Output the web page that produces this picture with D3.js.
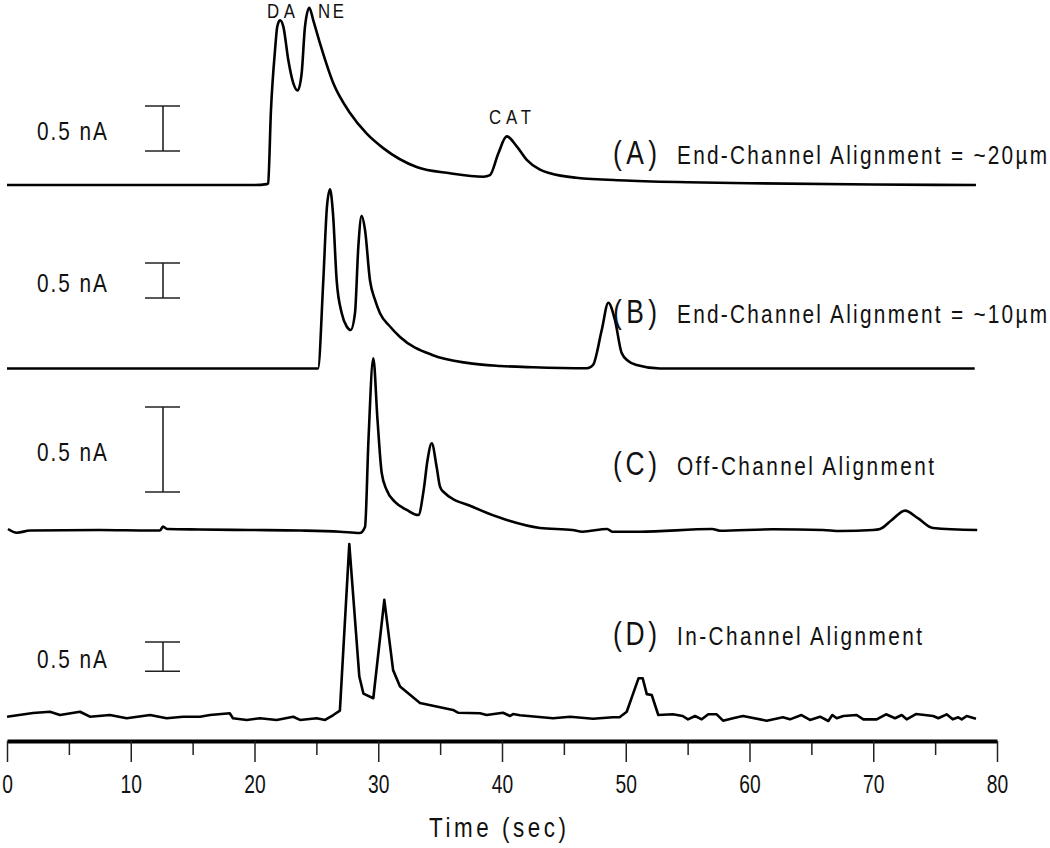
<!DOCTYPE html>
<html>
<head>
<meta charset="utf-8">
<script src="https://cdn.jsdelivr.net/npm/d3@7"></script>
<style>
  body { margin: 0; background: #fff; }
  text { font-family: "Liberation Sans", Arial, sans-serif; fill: #111; }
</style>
</head>
<body>
<script>
// 画布
const width = 1050;
const height = 848;

// 数据: [时间 (sec), 电流 (nA, 相对基线)]
const traceA = [[0,0],[5,0],[10,0],[15,0],[20,0],[21.0,0.01],[21.1,0.02],[21.33,0.83],[21.66,1.5],[21.84,1.76],[22.06,1.83],[22.33,1.76],[22.73,1.39],[23.14,1.13],[23.49,1.05],[23.81,1.24],[24.08,1.76],[24.43,1.97],[24.75,1.83],[25.3,1.57],[26.37,1.13],[27.72,0.8],[29.07,0.57],[30.4,0.41],[33.1,0.2],[35.8,0.13],[38.5,0.092],[39.03,0.11],[39.7,0.35],[40.38,0.54],[41.19,0.43],[42,0.28],[43.07,0.17],[43.88,0.13],[46,0.08],[50,0.05],[55,0.03],[60,0.02],[70,0.005],[78.3,0]];

const traceB = [[0,0],[10,0],[20,0],[25.13,0],[25.56,1.26],[25.85,2.3],[26.1,2.56],[26.34,2.22],[26.64,1.26],[27.05,0.79],[27.45,0.6],[27.77,0.55],[28.12,0.79],[28.39,1.74],[28.66,2.18],[28.93,1.98],[29.33,1.26],[29.74,0.98],[30.14,0.79],[30.95,0.6],[31.76,0.45],[34.42,0.19],[37.17,0.08],[39.84,0.036],[42.5,0.017],[46.87,0.003],[47.35,0.05],[48.06,0.55],[48.59,0.94],[49.13,0.69],[49.67,0.22],[50.2,0.107],[50.88,0.05],[52.77,0],[60,0],[70,0],[78.2,0]];

const traceC = [[0.08,0.006],[0.8,-0.016],[1.86,-0.003],[7.5,0],[11.56,-0.003],[12.36,-0.003],[12.6,0.02],[12.93,0.006],[15.6,0.003],[19.6,0],[23.7,-0.003],[26.9,-0.01],[28.5,-0.018],[28.93,0.018],[29.21,0.53],[29.6,1.01],[29.94,0.647],[30.28,0.335],[30.68,0.235],[31.35,0.165],[32.3,0.118],[33.24,0.088],[33.67,0.235],[33.98,0.41],[34.32,0.51],[34.72,0.37],[34.99,0.255],[35.26,0.225],[37.66,0.135],[40.38,0.059],[43.07,0.012],[45.7,0],[46.5,-0.01],[48.5,0.006],[48.9,-0.01],[51.15,-0.01],[56.97,0.006],[57.6,-0.004],[61.9,0.004],[65.94,0],[67.3,-0.006],[69.98,0],[70.55,0.006],[71.5,0.059],[72.57,0.114],[73.6,0.07],[74.83,0.012],[78.4,0]];

const traceD = [[0,0.005],[2.1,0.068],[3.47,0.09],[4.28,0.034],[5.9,0.09],[6.7,0.005],[8.32,0.034],[9.67,-0.022],[11.56,0.034],[12.9,-0.022],[14.22,0.005],[15.6,0.005],[16.4,0.034],[18.0,0.063],[18.26,-0.022],[19.37,-0.05],[20.44,-0.022],[21.79,-0.05],[23.13,0.005],[23.68,-0.05],[25.03,-0.022],[25.7,-0.05],[26.37,0.034],[26.9,0.11],[27.66,2.95],[28.47,0.69],[28.8,0.4],[29.6,0.32],[30.49,2.0],[31.2,0.8],[31.76,0.52],[33.37,0.24],[36.04,0.12],[36.44,0.073],[38.22,0.063],[38.76,0.034],[40.08,0.073],[40.65,0.017],[40.89,0.05],[41.45,0.029],[44.12,-0.022],[45.5,0.005],[47.35,-0.029],[48.97,-0.005],[49.5,-0.005],[50.08,0.09],[51.03,0.66],[51.37,0.66],[51.7,0.39],[52.1,0.375],[52.63,0.034],[53.8,0.046],[54.6,0.017],[55.03,-0.04],[55.6,0.017],[56.14,-0.04],[56.67,0.046],[57.35,0.046],[57.86,-0.063],[58.67,-0.022],[59.47,0.017],[61.39,-0.063],[62.7,-0.005],[63.27,-0.04],[64.2,0.034],[64.89,-0.05],[65.7,0.005],[66.37,-0.068],[66.69,0.034],[67.05,-0.022],[67.58,0.017],[68.66,0.034],[69.2,-0.04],[70.28,-0.04],[71.03,0.046],[71.76,-0.022],[72.3,0.034],[72.7,-0.04],[73.45,0.05],[74.85,0.017],[75.26,-0.022],[75.93,0.046],[76.42,-0.04],[76.87,-0.005],[77.15,-0.04],[77.55,0.017],[78.3,-0.029]];

// 文字
const panelLetters = ["(A)", "(B)", "(C)", "(D)"];
const panelTitles = ["End-Channel Alignment = ~20\u00B5m", "End-Channel Alignment = ~10\u00B5m", "Off-Channel Alignment", "In-Channel Alignment"];
const peakNames = ["DA", "NE", "CAT"];
const majorTicks = [0, 10, 20, 30, 40, 50, 60, 70, 80];
const minorTicks = [5, 15, 25, 35, 45, 55, 65, 75];
const scaleBarNA = 0.5;

// 每条曲线的布局 (基线像素, 每 nA 像素, 标尺顶部, 标签基线, 标题宽度)
const panels = [
  { data: traceA, base: 185, pxPerNA: 90, barTop: 106, labelY: 164, titleW: 370, curve: d3.curveMonotoneX },
  { data: traceB, base: 368.5, pxPerNA: 70, barTop: 263, labelY: 323, titleW: 370, curve: d3.curveMonotoneX },
  { data: traceC, base: 530, pxPerNA: 170, barTop: 407, labelY: 475, titleW: 257, curve: d3.curveMonotoneX },
  { data: traceD, base: 717, pxPerNA: 58.6, barTop: 642, labelY: 645, titleW: 245, curve: d3.curveLinear }
];

const SX = 0.8; // 窄体字的水平压缩

// 窄体 + 字距的文字: 先量自然宽度, 再用字距补足目标宽度
function condensed(parent, str, x, y, size, targetW) {
  const t = parent.append("text")
    .attr("font-size", size)
    .attr("transform", `translate(${x},${y}) scale(${SX},1)`)
    .text(str);
  const natural = t.node().getComputedTextLength();
  const ls = (targetW / SX - natural) / Math.max(1, str.length - 1);
  t.attr("letter-spacing", ls);
  return t;
}

const svg = d3.select("body").append("svg")
  .attr("width", width).attr("height", height);

const xScale = d3.scaleLinear().domain([0, 80]).range([7, 997]);

panels.forEach((p, i) => {
  const yScale = d3.scaleLinear().domain([0, 1]).range([p.base, p.base - p.pxPerNA]);
  const line = d3.line()
    .x(d => xScale(d[0]))
    .y(d => yScale(d[1]))
    .curve(p.curve);

  svg.append("path").datum(p.data)
    .attr("d", line)
    .attr("fill", "none").attr("stroke", "#000")
    .attr("stroke-width", 2.6).attr("stroke-linejoin", "round");

  // 0.5 nA 标尺
  const barH = yScale(0) - yScale(scaleBarNA);
  const g = svg.append("g").attr("stroke", "#222").attr("stroke-width", 1.6);
  g.append("line").attr("x1", 163).attr("x2", 163).attr("y1", p.barTop).attr("y2", p.barTop + barH);
  g.append("line").attr("x1", 145).attr("x2", 180).attr("y1", p.barTop).attr("y2", p.barTop);
  g.append("line").attr("x1", 145).attr("x2", 180).attr("y1", p.barTop + barH).attr("y2", p.barTop + barH);

  condensed(svg, scaleBarNA + " nA", 37, p.barTop + barH / 2 + 11, 26, 70);
  condensed(svg, panelLetters[i], 613, p.labelY, 33, 44);
  condensed(svg, panelTitles[i], 677, p.labelY, 26, p.titleW);
});

// 峰标签
const peakX = [267, 318, 489];
const peakY = [18, 18, 124];
const peakW = [28, 26, 42];
peakNames.forEach((name, i) => condensed(svg, name, peakX[i], peakY[i], 21, peakW[i]));

// 时间轴
const axisY = 741;
const minorAxis = svg.append("g").attr("transform", `translate(0,${axisY})`)
  .call(d3.axisBottom(xScale).tickValues(minorTicks).tickSize(14).tickSizeOuter(0).tickFormat(""));
minorAxis.select(".domain").remove();

const majorAxis = svg.append("g").attr("transform", `translate(0,${axisY})`)
  .call(d3.axisBottom(xScale).tickValues(majorTicks).tickSize(21).tickSizeOuter(0).tickPadding(13));
majorAxis.select(".domain").attr("stroke-width", 4).attr("stroke", "#000");
svg.selectAll(".tick line").attr("stroke", "#222").attr("stroke-width", 1.5);
majorAxis.selectAll(".tick text")
  .style("font-family", '"Liberation Sans", Arial, sans-serif')
  .attr("font-size", 26).attr("fill", "#111")
  .attr("transform", `scale(0.74,1)`);

condensed(svg, "Time (sec)", 429, 837, 28, 137);
</script>
</body>
</html>
